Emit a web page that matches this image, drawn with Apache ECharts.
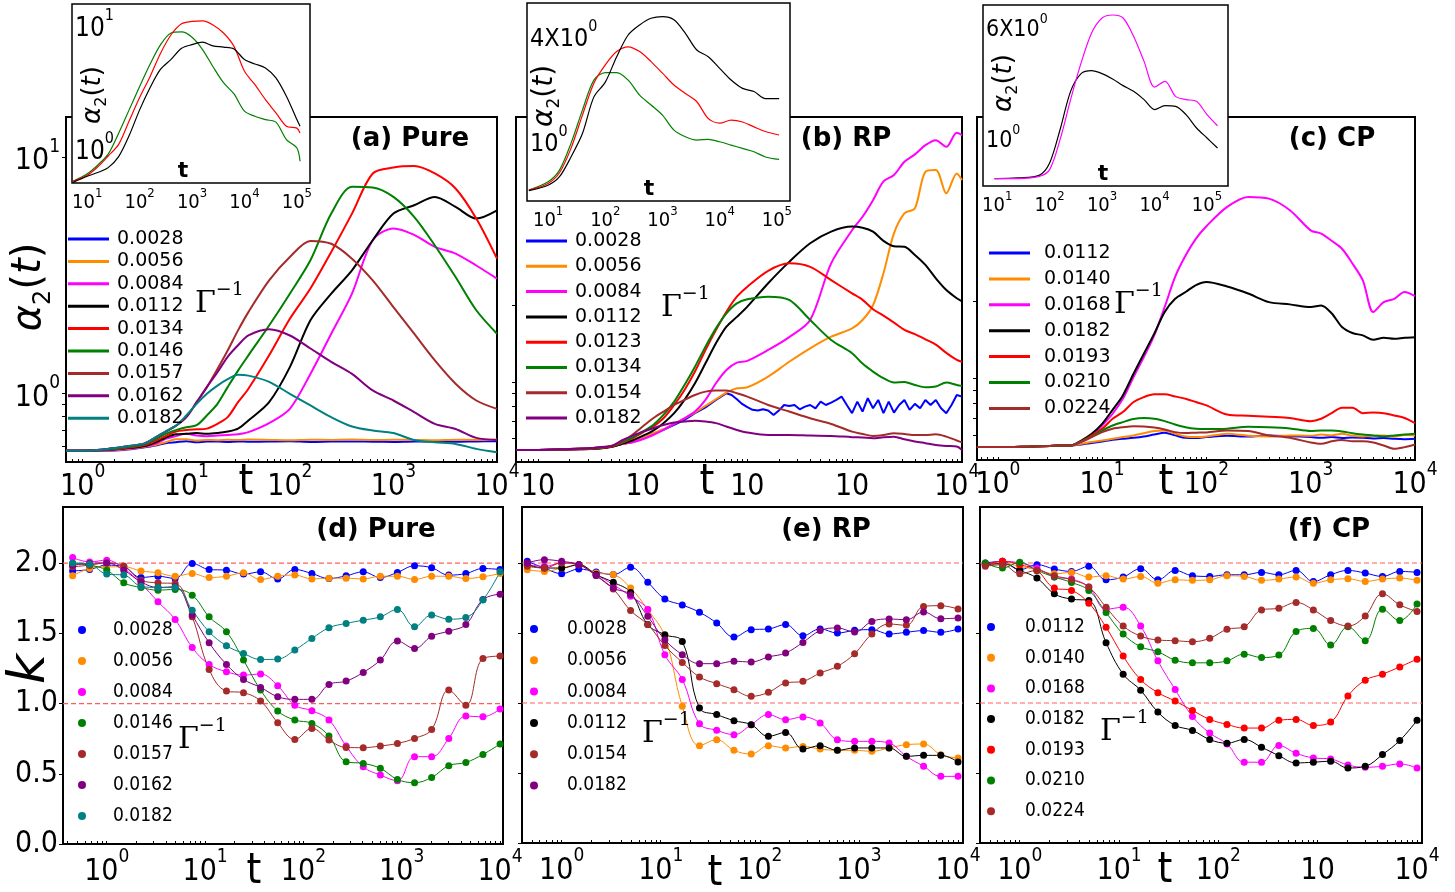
<!DOCTYPE html>
<html>
<head>
<meta charset="utf-8">
<script src="https://cdn.jsdelivr.net/npm/echarts@6/dist/echarts.min.js"></script>
<style>
  html, body { margin: 0; padding: 0; background: #fff; }
  #chart { width: 1455px; height: 892px; }
</style>
</head>
<body>
<div id="chart"></div>
<script>
// ---------------- time grids ----------------
const tPure = [0.69, 1, 1.58, 2.51, 3.98, 5.01, 6.31, 7.94, 10, 12.6, 15.8, 20, 25.1, 31.6, 39.8, 63.1, 100, 158, 251, 398, 631, 1000, 1585, 2512, 3981, 6310, 10000];
const tRP = [0.62, 1, 2, 3.16, 3.98, 5.01, 6.31, 7.94, 10, 12.6, 15.8, 20, 25.1, 31.6, 39.8, 50.1, 63.1, 79.4, 100, 158, 251, 398, 631, 1000, 1259, 1585, 1995, 2512, 3162, 3981, 5012, 6310, 7943, 10000, 11220];
const tRPFine = [0.62, 1, 2, 3.16, 3.98, 5.01, 6.31, 7.94, 10, 12.6, 15.8, 20, 25.1, 31.6, 39.8, 50.1, 63.1, 70.8, 79.4, 89.1, 100, 112, 126, 141, 158, 178, 200, 224, 251, 282, 316, 355, 398, 447, 501, 562, 631, 708, 794, 891, 1000, 1122, 1259, 1413, 1585, 1778, 1995, 2239, 2512, 2818, 3162, 3548, 3981, 4467, 5012, 5623, 6310, 7079, 7943, 8913, 10000, 11220];
const tCP = [0.63, 1, 2, 3.16, 3.98, 5.01, 6.31, 7.94, 10, 12.6, 15.8, 20, 25.1, 31.6, 39.8, 50.1, 63.1, 79.4, 100, 158, 251, 398, 631, 1000, 1259, 1585, 1995, 2512, 3162, 3981, 5012, 6310, 7943, 10000];
const tInsetPure = [5.4, 10, 15.8, 25.1, 39.8, 63.1, 100, 158, 251, 398, 631, 1000, 1585, 2512, 3981, 6310, 10000, 15849, 25119, 39811, 63096, 100000, 114800];
const tInsetRP = [4.6, 10, 15.8, 25.1, 39.8, 63.1, 100, 158, 251, 398, 631, 1000, 1585, 2512, 3981, 6310, 10000, 15849, 25119, 39811, 63096, 109600];
const tInsetCP = [8.9, 10, 25.1, 63.1, 100, 158, 251, 398, 631, 1000, 1585, 2512, 3981, 6310, 10000, 15849, 25119, 39811, 63096, 100000, 158489];
const tKappa = [0.45, 0.67, 1, 1.49, 2.23, 3.32, 4.96, 7.4, 11.0, 16.5, 24.6, 36.7, 54.8, 81.8, 122, 182, 272, 406, 606, 904, 1350, 2015, 3010, 4490, 6700, 10000];

// ---------------- (a) Pure : alpha_2(t) ----------------
const pure0028 = [0.573, 0.573, 0.573, 0.577, 0.592, 0.602, 0.616, 0.622, 0.628, 0.622, 0.626, 0.626, 0.624, 0.627, 0.625, 0.626, 0.628, 0.624, 0.626, 0.627, 0.625, 0.624, 0.627, 0.626, 0.625, 0.627, 0.628];
const pure0056 = [0.573, 0.573, 0.575, 0.58, 0.595, 0.605, 0.622, 0.64, 0.64, 0.632, 0.636, 0.634, 0.637, 0.635, 0.638, 0.636, 0.634, 0.637, 0.636, 0.638, 0.635, 0.637, 0.636, 0.634, 0.637, 0.636, 0.638];
const pure0084 = [0.573, 0.573, 0.575, 0.582, 0.598, 0.612, 0.643, 0.66, 0.675, 0.664, 0.66, 0.664, 0.668, 0.672, 0.686, 0.749, 0.861, 1.21, 1.79, 2.645, 4.45, 4.99, 4.69, 4.17, 3.91, 3.48, 3.06];
const pure0112 = [0.573, 0.573, 0.576, 0.585, 0.60, 0.62, 0.65, 0.672, 0.675, 0.68, 0.675, 0.68, 0.69, 0.71, 0.769, 0.919, 1.293, 2.04, 2.645, 3.32, 4.45, 5.77, 6.26, 6.79, 6.16, 5.50, 5.96];
const pure0134 = [0.573, 0.573, 0.577, 0.587, 0.605, 0.63, 0.66, 0.69, 0.70, 0.705, 0.71, 0.744, 0.794, 0.919, 1.047, 1.45, 2.07, 2.78, 3.97, 5.77, 8.53, 9.04, 9.17, 8.53, 7.37, 5.50, 3.72];
const pure0146 = [0.573, 0.573, 0.578, 0.59, 0.61, 0.64, 0.675, 0.70, 0.72, 0.734, 0.807, 0.904, 1.064, 1.25, 1.45, 1.94, 2.645, 3.66, 5.77, 7.49, 7.44, 6.79, 5.59, 4.23, 3.11, 2.25, 1.79];
const pure0157 = [0.573, 0.573, 0.58, 0.595, 0.615, 0.65, 0.69, 0.73, 0.794, 0.919, 1.064, 1.27, 1.52, 1.85, 2.21, 3.01, 3.78, 4.42, 4.30, 3.72, 3.01, 2.32, 1.79, 1.38, 1.10, 0.934, 0.861];
const pure0162 = [0.573, 0.573, 0.58, 0.595, 0.615, 0.65, 0.69, 0.73, 0.794, 0.919, 1.064, 1.23, 1.43, 1.60, 1.76, 1.87, 1.76, 1.55, 1.36, 1.21, 1.03, 0.934, 0.834, 0.744, 0.708, 0.649, 0.636];
const pure0182 = [0.573, 0.573, 0.58, 0.595, 0.615, 0.65, 0.69, 0.73, 0.807, 0.904, 0.997, 1.08, 1.15, 1.20, 1.19, 1.12, 0.997, 0.89, 0.794, 0.725, 0.697, 0.68, 0.636, 0.622, 0.612, 0.583, 0.564];

// inset of (a): long-time runs
const insetPureBlack = [0.525, 0.589, 0.631, 0.692, 0.851, 1.26, 2.04, 3.09, 4.37, 5.25, 6.46, 6.92, 7.24, 6.76, 6.61, 6.38, 5.23, 4.82, 4.47, 3.71, 2.63, 1.70, 1.50];
const insetPureRed = [0.537, 0.60, 0.70, 0.86, 1.07, 1.66, 2.57, 3.80, 5.89, 8.32, 10.23, 10.7, 10.8, 10.0, 8.6, 6.7, 4.2, 3.27, 2.47, 1.93, 1.50, 1.45, 1.32];
const insetPureGreen = [0.537, 0.617, 0.724, 0.891, 1.318, 2.04, 3.16, 4.79, 6.92, 8.61, 8.77, 7.94, 6.31, 4.57, 3.39, 2.75, 1.99, 1.81, 1.70, 1.62, 1.17, 1.0, 0.78];

// ---------------- (b) RP : alpha_2(t) ----------------
const rp0028 = [0.541, 0.541, 0.544, 0.547, 0.55, 0.558, 0.57, 0.58, 0.601, 0.625, 0.648, 0.678, 0.71, 0.754, 0.795, 0.85, 0.903,
  0.889, 0.855, 0.820, 0.796, 0.777, 0.772, 0.781, 0.772, 0.742, 0.772, 0.812, 0.805, 0.812, 0.781, 0.800, 0.812, 0.788, 0.837, 0.812,
  0.830, 0.850, 0.876, 0.812, 0.754, 0.837, 0.765, 0.863, 0.788, 0.850, 0.754, 0.837, 0.758, 0.812, 0.850, 0.777, 0.820, 0.788, 0.850,
  0.812, 0.850, 0.788, 0.754, 0.812, 0.889, 0.876];
const rp0056 = [0.541, 0.541, 0.544, 0.547, 0.55, 0.558, 0.57, 0.58, 0.601, 0.629, 0.652, 0.685, 0.72, 0.758, 0.805, 0.855, 0.908, 0.944, 0.953, 1.049, 1.20, 1.355, 1.505, 1.623, 1.75, 2.0, 2.67, 3.83, 4.59, 4.80, 6.68, 6.79, 5.5, 6.58, 6.2];
const rp0084 = [0.541, 0.541, 0.544, 0.547, 0.55, 0.558, 0.57, 0.58, 0.596, 0.619, 0.648, 0.685, 0.72, 0.765, 0.85, 0.988, 1.114, 1.19, 1.21, 1.335, 1.50, 1.75, 2.92, 3.94, 4.45, 5.17, 6.12, 6.49, 7.31, 7.82, 8.5, 8.89, 8.37, 9.5, 9.3];
const rp0112 = [0.541, 0.541, 0.543, 0.545, 0.548, 0.555, 0.571, 0.589, 0.614, 0.644, 0.689, 0.754, 0.85, 0.988, 1.183, 1.418, 1.648, 1.80, 1.975, 2.44, 2.96, 3.5, 3.89, 4.07, 4.03, 3.89, 3.58, 3.41, 3.395, 3.15, 2.88, 2.55, 2.295, 2.13, 2.07];
const rp0123 = [0.541, 0.541, 0.544, 0.546, 0.55, 0.557, 0.575, 0.6, 0.633, 0.668, 0.72, 0.812, 0.93, 1.098, 1.335, 1.599, 1.887, 2.16, 2.365, 2.73, 2.92, 2.83, 2.51, 2.227, 2.10, 1.93, 1.82, 1.71, 1.60, 1.54, 1.47, 1.40, 1.30, 1.22, 1.20];
const rp0134 = [0.541, 0.541, 0.545, 0.548, 0.552, 0.56, 0.578, 0.605, 0.638, 0.678, 0.742, 0.837, 0.973, 1.148, 1.376, 1.623, 1.859, 2.035, 2.11, 2.16, 2.097, 1.75, 1.461, 1.296, 1.18, 1.098, 1.034, 0.994, 1.0, 0.973, 0.953, 0.959, 0.994, 0.973, 0.965];
const rp0154 = [0.541, 0.541, 0.546, 0.55, 0.556, 0.56, 0.584, 0.619, 0.668, 0.72, 0.765, 0.812, 0.85, 0.889, 0.916, 0.925, 0.925, 0.903, 0.876, 0.812, 0.765, 0.72, 0.684, 0.638, 0.625, 0.614, 0.619, 0.629, 0.625, 0.619, 0.619, 0.623, 0.61, 0.589, 0.579];
const rp0182 = [0.541, 0.541, 0.546, 0.55, 0.555, 0.56, 0.589, 0.614, 0.638, 0.658, 0.678, 0.693, 0.699, 0.704, 0.699, 0.689, 0.668, 0.648, 0.633, 0.619, 0.619, 0.616, 0.614, 0.607, 0.605, 0.601, 0.607, 0.61, 0.596, 0.584, 0.575, 0.566, 0.561, 0.558, 0.541];

// inset of (b)
const insetRPGreen = [0.516, 0.576, 0.672, 0.957, 1.486, 2.21, 2.44, 2.44, 2.21, 1.81, 1.59, 1.39, 1.14, 1.045, 1.0, 1.01, 0.978, 0.936, 0.896, 0.857, 0.80, 0.774];
const insetRPRed = [0.516, 0.564, 0.649, 0.896, 1.39, 2.12, 2.70, 3.22, 3.43, 3.22, 2.82, 2.42, 2.07, 1.85, 1.66, 1.33, 1.25, 1.30, 1.27, 1.19, 1.12, 1.069];
const insetRPBlack = [0.513, 0.551, 0.616, 0.80, 1.09, 1.77, 2.15, 3.01, 4.01, 4.58, 5.0, 5.11, 4.90, 4.10, 3.29, 3.01, 2.58, 2.21, 1.98, 1.90, 1.73, 1.73];

// ---------------- (c) CP : alpha_2(t) ----------------
const cp0112 = [0.538, 0.538, 0.541, 0.544, 0.546, 0.546, 0.551, 0.558, 0.566, 0.575, 0.58, 0.585, 0.592, 0.603, 0.612, 0.598, 0.585, 0.584, 0.589, 0.596, 0.592, 0.598, 0.594, 0.589, 0.585, 0.589, 0.584, 0.587, 0.585, 0.582, 0.584, 0.58, 0.578, 0.58];
const cp0140 = [0.538, 0.538, 0.541, 0.544, 0.546, 0.546, 0.554, 0.563, 0.571, 0.58, 0.589, 0.598, 0.61, 0.622, 0.625, 0.607, 0.592, 0.589, 0.592, 0.607, 0.596, 0.592, 0.598, 0.596, 0.603, 0.598, 0.607, 0.596, 0.592, 0.596, 0.598, 0.592, 0.6, 0.598];
const cp0168 = [0.538, 0.538, 0.541, 0.544, 0.546, 0.546, 0.563, 0.592, 0.654, 0.727, 0.832, 1.012, 1.212, 1.474, 1.905, 2.5, 3.03, 3.53, 3.946, 4.697, 5.14, 5.06, 4.56, 3.8, 3.692, 3.46, 3.22, 2.82, 2.42, 1.82, 1.99, 2.05, 2.18, 2.10];
const cp0182 = [0.538, 0.538, 0.541, 0.544, 0.546, 0.546, 0.571, 0.607, 0.664, 0.753, 0.858, 1.043, 1.249, 1.497, 1.82, 2.05, 2.18, 2.32, 2.385, 2.29, 2.15, 1.99, 1.95, 1.905, 1.93, 1.80, 1.59, 1.506, 1.474, 1.418, 1.443, 1.43, 1.443, 1.45];
const cp0193 = [0.538, 0.538, 0.541, 0.544, 0.546, 0.546, 0.567, 0.598, 0.635, 0.695, 0.738, 0.808, 0.845, 0.866, 0.866, 0.85, 0.832, 0.808, 0.784, 0.722, 0.714, 0.707, 0.70, 0.68, 0.695, 0.731, 0.767, 0.767, 0.731, 0.735, 0.731, 0.716, 0.70, 0.668];
const cp0210 = [0.538, 0.538, 0.541, 0.544, 0.546, 0.546, 0.567, 0.592, 0.625, 0.654, 0.674, 0.693, 0.699, 0.695, 0.68, 0.66, 0.644, 0.635, 0.633, 0.635, 0.646, 0.644, 0.637, 0.622, 0.625, 0.625, 0.62, 0.61, 0.603, 0.598, 0.592, 0.598, 0.603, 0.607];
const cp0224 = [0.538, 0.538, 0.541, 0.544, 0.546, 0.546, 0.565, 0.589, 0.616, 0.635, 0.644, 0.65, 0.648, 0.642, 0.631, 0.616, 0.611, 0.613, 0.614, 0.625, 0.622, 0.598, 0.585, 0.561, 0.554, 0.567, 0.574, 0.567, 0.567, 0.561, 0.546, 0.530, 0.538, 0.551];

// inset of (c)
const insetCPMagenta = [0.519, 0.519, 0.52, 0.538, 0.6, 0.973, 1.858, 3.357, 5.445, 6.934, 7.278, 6.934, 5.164, 3.443, 2.275, 2.495, 1.959, 1.858, 1.807, 1.459, 1.219];
const insetCPBlack = [0.519, 0.519, 0.525, 0.547, 0.668, 1.143, 2.123, 2.825, 2.965, 2.825, 2.594, 2.328, 2.123, 1.858, 1.581, 1.687, 1.667, 1.459, 1.175, 1.0, 0.851];

// ---------------- (d) Pure : k(t) ----------------
const kPure0028 = [1.945, 1.955, 1.986, 1.974, 1.898, 1.907, 1.891, 1.998, 1.955, 1.950, 1.922, 1.938, 1.888, 1.955, 1.926, 1.891, 1.910, 1.938, 1.898, 1.934, 1.981, 1.967, 1.915, 1.926, 1.962, 1.955];
const kPure0056 = [1.91, 1.962, 1.974, 1.974, 1.945, 1.931, 1.907, 1.926, 1.898, 1.907, 1.931, 1.884, 1.907, 1.915, 1.888, 1.893, 1.893, 1.888, 1.907, 1.907, 1.884, 1.907, 1.907, 1.891, 1.903, 1.926];
const kPure0084 = [2.040, 2.009, 2.021, 1.962, 1.855, 1.725, 1.599, 1.40, 1.279, 1.227, 1.203, 1.210, 1.127, 0.989, 0.949, 0.883, 0.698, 0.55, 0.491, 0.451, 0.622, 0.622, 0.752, 0.911, 0.906, 0.961];
const kPure0146 = [1.998, 1.986, 1.950, 1.860, 1.827, 1.808, 1.813, 1.772, 1.618, 1.511, 1.310, 1.096, 0.947, 0.883, 0.859, 0.769, 0.586, 0.574, 0.539, 0.460, 0.437, 0.474, 0.558, 0.581, 0.638, 0.712];
const kPure0157 = [1.974, 1.986, 2.002, 1.979, 1.879, 1.860, 1.855, 1.618, 1.243, 1.089, 1.077, 1.018, 0.864, 0.745, 0.823, 0.740, 0.688, 0.686, 0.698, 0.716, 0.752, 0.816, 1.096, 0.989, 1.321, 1.338];
const kPure0162 = [1.986, 1.998, 2.002, 1.950, 1.867, 1.827, 1.832, 1.630, 1.433, 1.279, 1.172, 1.115, 1.049, 1.030, 1.030, 1.136, 1.160, 1.222, 1.310, 1.445, 1.393, 1.480, 1.516, 1.563, 1.741, 1.779];
const kPure0182 = [2.002, 1.993, 1.922, 1.915, 1.836, 1.827, 1.827, 1.665, 1.511, 1.412, 1.357, 1.314, 1.317, 1.381, 1.464, 1.540, 1.571, 1.594, 1.618, 1.670, 1.547, 1.630, 1.601, 1.613, 1.737, 1.938];

// ---------------- (e) RP : k(t) ----------------
const kRP0028 = [2.012, 1.964, 1.924, 1.957, 1.936, 1.917, 1.969, 1.862, 1.743, 1.700, 1.648, 1.571, 1.471, 1.524, 1.529, 1.560, 1.481, 1.529, 1.500, 1.519, 1.524, 1.493, 1.505, 1.517, 1.505, 1.529];
const kRP0056 = [1.952, 1.940, 1.964, 1.988, 1.929, 1.917, 1.821, 1.667, 1.476, 0.976, 0.695, 0.738, 0.662, 0.636, 0.695, 0.679, 0.690, 0.671, 0.662, 0.662, 0.655, 0.679, 0.702, 0.707, 0.631, 0.607];
const kRP0084 = [1.988, 1.976, 2.0, 1.988, 1.917, 1.845, 1.762, 1.667, 1.345, 1.167, 0.852, 0.805, 0.774, 0.845, 0.917, 0.881, 0.9, 0.857, 0.738, 0.726, 0.726, 0.714, 0.619, 0.548, 0.476, 0.476];
const kRP0112 = [1.988, 1.964, 1.964, 1.988, 1.917, 1.862, 1.790, 1.560, 1.488, 1.440, 0.964, 0.917, 0.874, 0.845, 0.762, 0.790, 0.671, 0.695, 0.662, 0.679, 0.679, 0.679, 0.619, 0.626, 0.626, 0.579];
const kRP0154 = [1.976, 1.964, 2.0, 1.988, 1.910, 1.814, 1.660, 1.560, 1.410, 1.290, 1.186, 1.138, 1.095, 1.048, 1.076, 1.143, 1.155, 1.214, 1.262, 1.352, 1.493, 1.564, 1.555, 1.690, 1.695, 1.671];
const kRP0182 = [2.0, 2.024, 2.012, 1.988, 1.910, 1.821, 1.774, 1.619, 1.452, 1.345, 1.281, 1.281, 1.298, 1.293, 1.329, 1.357, 1.433, 1.517, 1.536, 1.507, 1.583, 1.6, 1.595, 1.65, 1.602, 1.607];

// ---------------- (f) CP : k(t) ----------------
const kCP0112 = [2.0, 2.012, 1.952, 1.988, 1.957, 1.940, 1.976, 1.880, 1.900, 1.959, 1.880, 1.947, 1.909, 1.904, 1.916, 1.916, 1.933, 1.916, 1.947, 1.868, 1.916, 1.947, 1.928, 1.904, 1.940, 1.933];
const kCP0140 = [1.988, 2.0, 1.976, 1.952, 1.923, 1.933, 1.900, 1.909, 1.885, 1.904, 1.856, 1.880, 1.876, 1.880, 1.909, 1.904, 1.876, 1.885, 1.900, 1.856, 1.880, 1.887, 1.868, 1.885, 1.892, 1.876];
const kCP0168 = [1.988, 2.012, 2.0, 1.964, 1.900, 1.885, 1.828, 1.670, 1.684, 1.550, 1.301, 1.096, 0.904, 0.785, 0.708, 0.577, 0.577, 0.696, 0.641, 0.608, 0.600, 0.557, 0.541, 0.548, 0.565, 0.536];
const kCP0182 = [1.988, 1.995, 1.947, 1.892, 1.780, 1.742, 1.732, 1.431, 1.206, 1.091, 0.935, 0.840, 0.804, 0.739, 0.713, 0.739, 0.684, 0.624, 0.572, 0.577, 0.584, 0.536, 0.548, 0.632, 0.732, 0.876];
const kCP0193 = [1.988, 2.012, 1.988, 1.947, 1.821, 1.804, 1.713, 1.541, 1.335, 1.167, 1.074, 1.014, 0.947, 0.883, 0.847, 0.821, 0.821, 0.876, 0.883, 0.840, 0.864, 1.050, 1.163, 1.206, 1.258, 1.313];
const kCP0210 = [2.0, 1.964, 2.005, 1.947, 1.900, 1.861, 1.804, 1.646, 1.493, 1.402, 1.366, 1.306, 1.287, 1.287, 1.301, 1.349, 1.325, 1.342, 1.510, 1.533, 1.414, 1.545, 1.445, 1.670, 1.589, 1.708];
const kCP0224 = [1.976, 1.988, 1.923, 1.947, 1.909, 1.880, 1.828, 1.684, 1.550, 1.478, 1.450, 1.445, 1.438, 1.462, 1.526, 1.545, 1.665, 1.677, 1.718, 1.665, 1.589, 1.550, 1.622, 1.780, 1.701, 1.653];

// reference levels of k drawn as dashed lines
const kappaRefs = [2, 1];
const kappaTicks = [0, 0.5, 1, 1.5, 2];

// ---------------- styling ----------------
const COLORS = {
  blue: '#0000ff', orange: '#ff8c00', magenta: '#ff00ff', black: '#000000', red: '#ff0000',
  green: '#008000', brown: '#a52a2a', purple: '#800080', teal: '#008080'
};
const NARROW = "'Liberation Sans Narrow','DejaVu Sans Condensed','DejaVu Sans',sans-serif";
const SANS = "'DejaVu Sans',sans-serif";
const SERIF = "'DejaVu Serif','Liberation Serif',serif";

// [label, colour, values, time grid, smoothing]
const pureLines = [
  ['0.0028', 'blue', pure0028], ['0.0056', 'orange', pure0056], ['0.0084', 'magenta', pure0084],
  ['0.0112', 'black', pure0112], ['0.0134', 'red', pure0134], ['0.0146', 'green', pure0146],
  ['0.0157', 'brown', pure0157], ['0.0162', 'purple', pure0162], ['0.0182', 'teal', pure0182]
];
const rpLines = [
  ['0.0028', 'blue', rp0028, tRPFine, false], ['0.0056', 'orange', rp0056], ['0.0084', 'magenta', rp0084],
  ['0.0112', 'black', rp0112], ['0.0123', 'red', rp0123], ['0.0134', 'green', rp0134],
  ['0.0154', 'brown', rp0154], ['0.0182', 'purple', rp0182]
];
const cpLines = [
  ['0.0112', 'blue', cp0112], ['0.0140', 'orange', cp0140], ['0.0168', 'magenta', cp0168],
  ['0.0182', 'black', cp0182], ['0.0193', 'red', cp0193], ['0.0210', 'green', cp0210],
  ['0.0224', 'brown', cp0224]
];
const pureInsetLines = [['g', 'green', insetPureGreen], ['r', 'red', insetPureRed], ['k', 'black', insetPureBlack]];
const rpInsetLines = [['g', 'green', insetRPGreen], ['r', 'red', insetRPRed], ['k', 'black', insetRPBlack]];
const cpInsetLines = [['k', 'black', insetCPBlack], ['m', 'magenta', insetCPMagenta]];
const pureKappa = [
  ['0.0028', 'blue', kPure0028], ['0.0056', 'orange', kPure0056], ['0.0084', 'magenta', kPure0084],
  ['0.0146', 'green', kPure0146], ['0.0157', 'brown', kPure0157], ['0.0162', 'purple', kPure0162],
  ['0.0182', 'teal', kPure0182]
];
const rpKappa = [
  ['0.0028', 'blue', kRP0028], ['0.0056', 'orange', kRP0056], ['0.0084', 'magenta', kRP0084],
  ['0.0112', 'black', kRP0112], ['0.0154', 'brown', kRP0154], ['0.0182', 'purple', kRP0182]
];
const cpKappa = [
  ['0.0112', 'blue', kCP0112], ['0.0140', 'orange', kCP0140], ['0.0168', 'magenta', kCP0168],
  ['0.0182', 'black', kCP0182], ['0.0193', 'red', kCP0193], ['0.0210', 'green', kCP0210],
  ['0.0224', 'brown', kCP0224]
];

// x ranges of the three k(t) panels
const kappaXRange = [[0.359, 10715], [0.398, 11220], [0.398, 11220]];

// ---------------- helpers ----------------
function powRich(size, sup) {
  return {
    b: { fontSize: size, lineHeight: Math.round(size * 1.3), fontFamily: NARROW, color: '#000', verticalAlign: 'bottom' },
    s: { fontSize: sup, fontFamily: NARROW, color: '#000', verticalAlign: 'top' }
  };
}
function powLabel(plain) {
  return function (v) {
    const e = Math.round(Math.log10(v));
    return plain.indexOf(e) >= 0 ? '{b|10}' : '{b|10}{s|' + e + '}';
  };
}
function decades(min, max) {
  const r = [];
  for (let e = Math.ceil(Math.log10(min) - 1e-9); e <= Math.floor(Math.log10(max) + 1e-9); e++) r.push(Math.pow(10, e));
  return r;
}
function logTicks(min, max) {
  const r = [];
  for (let e = Math.floor(Math.log10(min)); e <= Math.ceil(Math.log10(max)); e++) {
    for (let m = 1; m < 10; m++) {
      const v = m * Math.pow(10, e);
      if (v >= min && v <= max) r.push(v);
    }
  }
  return r;
}
function mainX(gi, min, max, plain, margin) {
  return {
    type: 'log', gridIndex: gi, min: min, max: max,
    axisLine: { show: false }, splitLine: { show: false },
    axisTick: { show: true, inside: true, length: 3, lineStyle: { color: '#000', width: 1 }, customValues: logTicks(min, max) },
    axisLabel: { show: true, margin: margin, formatter: powLabel(plain), rich: powRich(30, 19), customValues: decades(min, max) }
  };
}
function insetX(gi, min, max) {
  return {
    type: 'log', gridIndex: gi, min: min, max: max, z: 10,
    axisLine: { show: false }, splitLine: { show: false }, axisTick: { show: false },
    axisLabel: { show: true, margin: 4, formatter: powLabel([]), rich: powRich(20, 13), customValues: decades(min, max) }
  };
}
function insetY(gi, min, max, values, formatter, size) {
  return {
    type: 'log', gridIndex: gi, min: min, max: max, z: 10,
    axisLine: { show: false }, splitLine: { show: false }, axisTick: { show: false },
    axisLabel: { show: true, inside: true, margin: 3, customValues: values, formatter: formatter, rich: powRich(size, Math.round(size * 0.62)) }
  };
}
function mainY(gi, min, max, ticks, labels) {
  return {
    type: 'log', gridIndex: gi, min: min, max: max,
    axisLine: { show: false }, splitLine: { show: false },
    axisTick: { show: true, length: 4, lineStyle: { color: '#000', width: 1 }, customValues: ticks },
    axisLabel: labels
      ? { show: true, margin: 6, customValues: labels, formatter: powLabel([]), rich: powRich(30, 19) }
      : { show: false }
  };
}
function kappaY(gi, withLabels) {
  return {
    type: 'value', gridIndex: gi, min: 0, max: 2.4,
    axisLine: { show: false }, splitLine: { show: false },
    axisTick: { show: true, length: 4, lineStyle: { color: '#000', width: 1 }, customValues: kappaTicks },
    axisLabel: {
      show: withLabels, margin: 5, color: '#000', fontSize: 30, fontFamily: NARROW,
      customValues: kappaTicks, formatter: function (v) { return v.toFixed(1); }
    }
  };
}
function lineSeries(prefix, gi, entries, ts, width, z) {
  return entries.map(function (e) {
    const c = COLORS[e[1]];
    const grid = e[3] || ts;
    return {
      name: prefix + ' ' + e[0], type: 'line', xAxisIndex: gi, yAxisIndex: gi,
      data: grid.map(function (t, i) { return [t, e[2][i]]; }),
      symbol: 'none', showSymbol: false, smooth: e[4] === false ? false : 0.3, color: c,
      itemStyle: { color: c }, lineStyle: { color: c, width: width }, z: z
    };
  });
}
function kappaSeries(prefix, gi, entries) {
  return entries.map(function (e) {
    const c = COLORS[e[1]];
    return {
      name: prefix + ' ' + e[0], type: 'line', xAxisIndex: gi, yAxisIndex: gi,
      data: tKappa.map(function (t, i) { return [t, e[2][i]]; }),
      symbol: 'circle', symbolSize: 7, showSymbol: true, smooth: 0.4, color: c,
      itemStyle: { color: c }, lineStyle: { color: c, width: 1 }, z: 3
    };
  });
}
// dashed horizontal guides at the reference k levels, spanning each panel's t range
function kappaGuides(gi) {
  const range = kappaXRange[gi - 6];
  return kappaRefs.map(function (v, i) {
    return {
      name: 'guide ' + gi + '-' + i, type: 'line', xAxisIndex: gi, yAxisIndex: gi,
      data: [[range[0], v], [range[1], v]], symbol: 'none', showSymbol: false, silent: true,
      color: '#ff5c5c', lineStyle: { color: '#ff5c5c', width: 1.2, type: [5, 3] }, z: 1
    };
  });
}
function lineLegend(prefix, entries, left, top, gap, pad) {
  return {
    data: entries.map(function (e) { return prefix + ' ' + e[0]; }),
    left: left, top: top, orient: 'vertical', itemGap: gap, padding: 0, selectedMode: false,
    icon: 'rect', itemWidth: 41, itemHeight: 3, itemStyle: { borderWidth: 0 },
    textStyle: { fontSize: 19, fontFamily: SANS, color: '#000', padding: [0, 0, 0, pad] },
    formatter: function (n) { return n.slice(2); }
  };
}
function dotLegend(prefix, entries, left, top, gap, pad) {
  return {
    data: entries.map(function (e) { return prefix + ' ' + e[0]; }),
    left: left, top: top, orient: 'vertical', itemGap: gap, padding: 0, selectedMode: false,
    icon: 'circle', itemWidth: 8, itemHeight: 8, itemStyle: { borderWidth: 0 },
    textStyle: { fontSize: 19, fontFamily: NARROW, color: '#000', padding: [0, 0, 0, pad] },
    formatter: function (n) { return n.slice(2); }
  };
}
function label(text, x, y, font, rot) {
  return {
    type: 'text', x: x, y: y, z: 50, rotation: rot || 0,
    style: Object.assign({ text: text, x: 0, y: 0, align: 'center', verticalAlign: 'middle', fill: '#000' }, font)
  };
}
function gammaLabel(x, y) {
  return {
    type: 'text', x: x, y: y, z: 50,
    style: {
      text: '{g|Γ}{s|−1}', x: 0, y: 0, align: 'left', verticalAlign: 'middle',
      rich: {
        g: { fontSize: 30, fontFamily: SERIF, color: '#000', lineHeight: 38, verticalAlign: 'bottom' },
        s: { fontSize: 19, fontFamily: SERIF, color: '#000', verticalAlign: 'top' }
      }
    }
  };
}
function alphaLabel(x, y, size) {
  const lh = Math.round(size * 1.15);
  return {
    type: 'text', x: x, y: y, z: 50, rotation: Math.PI / 2,
    style: {
      text: '{a|α}{n|2}{p|(}{a|t}{p|)}', x: 0, y: 0, align: 'center', verticalAlign: 'middle',
      rich: {
        a: { fontSize: size, fontStyle: 'italic', fontFamily: SANS, color: '#000', lineHeight: lh, verticalAlign: 'top' },
        p: { fontSize: size, fontFamily: SANS, color: '#000', lineHeight: lh, verticalAlign: 'top' },
        n: { fontSize: Math.round(size * 0.6), fontFamily: SANS, color: '#000', lineHeight: Math.round(size * 0.6), verticalAlign: 'bottom' }
      }
    }
  };
}

// ---------------- layout ----------------
const mainFrame = { show: true, borderColor: '#000', borderWidth: 2, backgroundColor: 'transparent', outerBoundsMode: 'none' };
const insetFrame = { show: true, borderColor: '#000', borderWidth: 1.5, backgroundColor: '#fff', z: 10, outerBoundsMode: 'none' };
const grids = [
  Object.assign({ left: 66, top: 117, width: 431, height: 345 }, mainFrame),
  Object.assign({ left: 516, top: 117, width: 446, height: 345 }, mainFrame),
  Object.assign({ left: 977, top: 117, width: 438, height: 343 }, mainFrame),
  Object.assign({ left: 72, top: 4, width: 238, height: 179 }, insetFrame),
  Object.assign({ left: 527, top: 3, width: 263, height: 198 }, insetFrame),
  Object.assign({ left: 983, top: 5, width: 245, height: 181 }, insetFrame),
  Object.assign({ left: 63, top: 507, width: 440, height: 337 }, mainFrame),
  Object.assign({ left: 522, top: 507, width: 441, height: 336 }, mainFrame),
  Object.assign({ left: 980, top: 507, width: 442, height: 336 }, mainFrame)
];

const xAxes = [
  mainX(0, 0.69, 10000, [], 1),
  mainX(1, 0.617, 11220, [0, 1, 2, 3], 1),
  mainX(2, 0.631, 10000, [], 1),
  insetX(3, 5.13, 177828),
  insetX(4, 4.27, 169824),
  insetX(5, 5.37, 251189),
  mainX(6, kappaXRange[0][0], kappaXRange[0][1], [], 4),
  mainX(7, kappaXRange[1][0], kappaXRange[1][1], [], 4),
  mainX(8, kappaXRange[2][0], kappaXRange[2][1], [3], 4)
];
const yAxes = [
  mainY(0, 0.513, 14.79, [0.6, 0.7, 0.8, 0.9, 1, 10], [1, 10]),
  mainY(1, 0.485, 10.96, [0.6, 0.7, 0.8, 0.9, 1, 2], null),
  mainY(2, 0.479, 10.57, [0.6, 0.7, 0.8, 0.9, 1, 2], null),
  insetY(3, 0.519, 14.8, [1, 10], powLabel([]), 26),
  insetY(4, 0.447, 6.12, [1, 4], function (v) { return v > 2 ? '{b|4X10}{s|0}' : '{b|10}{s|0}'; }, 25),
  insetY(5, 0.461, 8.55, [1, 6], function (v) { return v > 2 ? '{b|6X10}{s|0}' : '{b|10}{s|0}'; }, 23),
  kappaY(6, true),
  kappaY(7, false),
  kappaY(8, false)
];

const series = [].concat(
  lineSeries('a', 0, pureLines, tPure, 2, 2),
  lineSeries('b', 1, rpLines, tRP, 2, 2),
  lineSeries('c', 2, cpLines, tCP, 2, 2),
  lineSeries('p', 3, pureInsetLines, tInsetPure, 1.2, 11),
  lineSeries('q', 4, rpInsetLines, tInsetRP, 1.2, 11),
  lineSeries('r', 5, cpInsetLines, tInsetCP, 1.2, 11),
  kappaGuides(6), kappaGuides(7), kappaGuides(8),
  kappaSeries('d', 6, pureKappa),
  kappaSeries('e', 7, rpKappa),
  kappaSeries('f', 8, cpKappa)
);

const legends = [
  lineLegend('a', pureLines, 68, 229.5, 3.4, 3),
  lineLegend('b', rpLines, 526, 231.5, 6.3, 3),
  lineLegend('c', cpLines, 989, 243.5, 6.9, 9),
  dotLegend('d', pureKappa, 78, 620.5, 12, 22),
  dotLegend('e', rpKappa, 530, 619.5, 12.3, 24),
  dotLegend('f', cpKappa, 987, 617.5, 11.7, 25)
];

const titleFont = { fontSize: 26, fontWeight: 'bold', fontFamily: SANS };
const tFont = { fontSize: 42, fontFamily: NARROW };
const tInsetFont = { fontSize: 22, fontWeight: 'bold', fontFamily: SANS };

const graphics = [
  label('(a) Pure', 410, 139, titleFont),
  label('(b) RP', 846, 139, titleFont),
  label('(c) CP', 1332, 139, titleFont),
  label('(d) Pure', 376, 530, titleFont),
  label('(e) RP', 826, 530, titleFont),
  label('(f) CP', 1329, 530, titleFont),
  label('t', 246, 483, tFont),
  label('t', 707, 483, tFont),
  label('t', 1166, 483, tFont),
  label('t', 254, 872, tFont),
  label('t', 715, 874, tFont),
  label('t', 1165, 871, tFont),
  label('t', 183, 171, tInsetFont),
  label('t', 649, 189, tInsetFont),
  label('t', 1103, 174, tInsetFont),
  alphaLabel(33, 287, 40),
  alphaLabel(95, 95, 26),
  alphaLabel(547, 96, 28),
  alphaLabel(1006, 83, 26),
  label('k', 30, 669, { fontSize: 52, fontStyle: 'italic', fontFamily: SANS }, Math.PI / 2),
  gammaLabel(195, 300),
  gammaLabel(661, 304),
  gammaLabel(1114, 301),
  gammaLabel(178, 736),
  gammaLabel(642, 730),
  gammaLabel(1100, 728)
];

const chart = echarts.init(document.getElementById('chart'), null, { renderer: 'canvas' });
chart.setOption({
  animation: false,
  backgroundColor: '#fff',
  grid: grids,
  xAxis: xAxes,
  yAxis: yAxes,
  legend: legends,
  series: series,
  graphic: graphics
});
</script>
</body>
</html>
